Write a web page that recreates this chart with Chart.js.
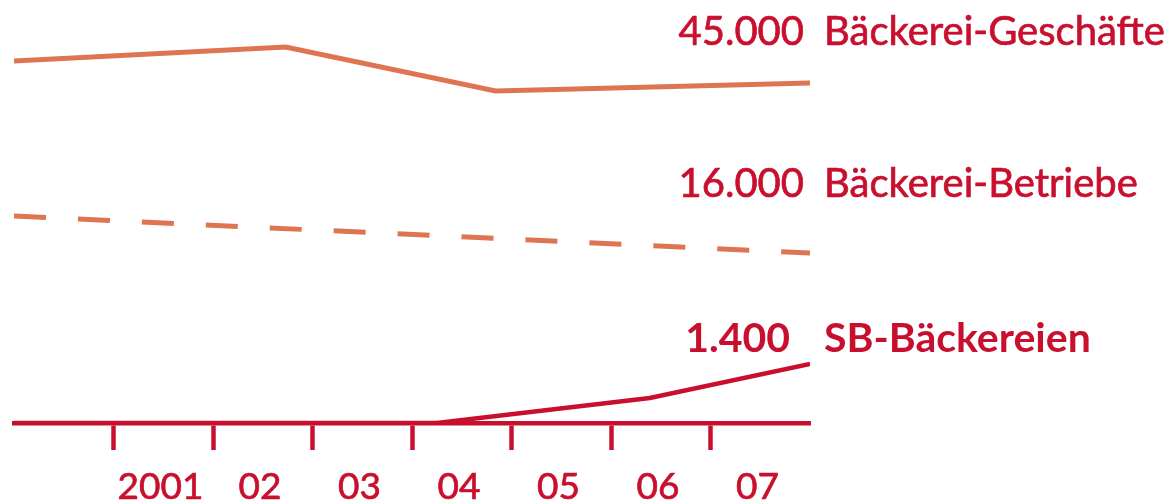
<!DOCTYPE html>
<html><head><meta charset="utf-8">
<script src="https://cdn.jsdelivr.net/npm/chart.js@4"></script>
<style>html,body{margin:0;padding:0;background:#fff;} #wrap{width:1167px;height:502px;position:relative}</style>
</head><body><div id="wrap"><canvas id="c" width="1167" height="502"></canvas></div>
<script>
// ---- data ----
const yearTicks = [2001, 2002, 2003, 2004, 2005, 2006, 2007];
const tickLabels = ['2001', '02', '03', '04', '05', '06', '07'];
const seriesNames = ['Bäckerei-Geschäfte', 'Bäckerei-Betriebe', 'SB-Bäckereien'];
const endValues = ['45.000', '16.000', '1.400'];
// relative heights (no value axis in the original)
const geschaefteX = [2000, 2002.73, 2004.84, 2008];
const geschaefteY = [362, 376, 332, 340];
const betriebeX = [2000, 2008];
const betriebeY = [207, 170];
const sbX = [2000, 2004.25, 2006.39, 2008];
const sbY = [0, 0, 25, 59];

const RED = '#C8102E';
const ORANGE = '#DE7452';
const FONT = 'Lato';

const pts = (xs, ys) => xs.map((x, i) => ({x, y: ys[i]}));

const endLabels = {
  id: 'endLabels',
  afterDraw(chart) {
    const ctx = chart.ctx;
    const rows = [
      {base: 45, numRight: 804, nameLeft: 824, bold: false},
      {base: 197, numRight: 804, nameLeft: 824, bold: false},
      {base: 352, numRight: 790, nameLeft: 824, bold: true}
    ];
    ctx.save();
    ctx.fillStyle = RED;
    ctx.strokeStyle = RED;
    ctx.lineWidth = 0.7;
    ctx.textBaseline = 'alphabetic';
    rows.forEach((r, i) => {
      ctx.font = (r.bold ? 'bold 41px ' : '40px ') + FONT;
      ctx.textAlign = 'right';
      ctx.fillText(endValues[i], r.numRight, r.base);
      if (!r.bold) ctx.strokeText(endValues[i], r.numRight, r.base);
      ctx.textAlign = 'left';
      ctx.fillText(seriesNames[i], r.nameLeft, r.base);
      if (!r.bold) ctx.strokeText(seriesNames[i], r.nameLeft, r.base);
    });
    ctx.restore();
  }
};

new Chart(document.getElementById('c'), {
  type: 'line',
  data: {
    datasets: [
      {label: seriesNames[0], data: pts(geschaefteX, geschaefteY), borderColor: ORANGE, borderWidth: 5, pointRadius: 0, tension: 0, borderCapStyle: 'butt', borderJoinStyle: 'miter'},
      {label: seriesNames[1], data: pts(betriebeX, betriebeY), borderColor: ORANGE, borderWidth: 5, borderDash: [32, 32], pointRadius: 0, tension: 0, borderCapStyle: 'butt'},
      {label: seriesNames[2], data: pts(sbX, sbY), borderColor: RED, borderWidth: 4.5, pointRadius: 0, tension: 0, borderCapStyle: 'butt'}
    ]
  },
  options: {
    responsive: false,
    animation: false,
    layout: {padding: {left: 14, right: 357, top: 23, bottom: 0}},
    plugins: {legend: {display: false}, tooltip: {enabled: false}},
    scales: {
      x: {
        type: 'linear', min: 2000, max: 2008,
        afterBuildTicks: s => { s.ticks = yearTicks.map(v => ({value: v})); },
        afterFit: s => { s.height = 79; },
        border: {display: true, color: RED, width: 4.5},
        grid: {display: true, drawOnChartArea: false, drawTicks: true, tickLength: 27, tickWidth: 4.5, tickColor: RED, color: RED},
        ticks: {color: RED, font: {family: FONT, size: 37}, padding: 15, labelOffset: 47, autoSkip: false, maxRotation: 0,
          textStrokeColor: RED, textStrokeWidth: 0.7,
          callback: (v, i) => tickLabels[i]}
      },
      y: {display: false, min: 0, max: 400}
    }
  },
  plugins: [endLabels]
});
</script>
</body></html>
